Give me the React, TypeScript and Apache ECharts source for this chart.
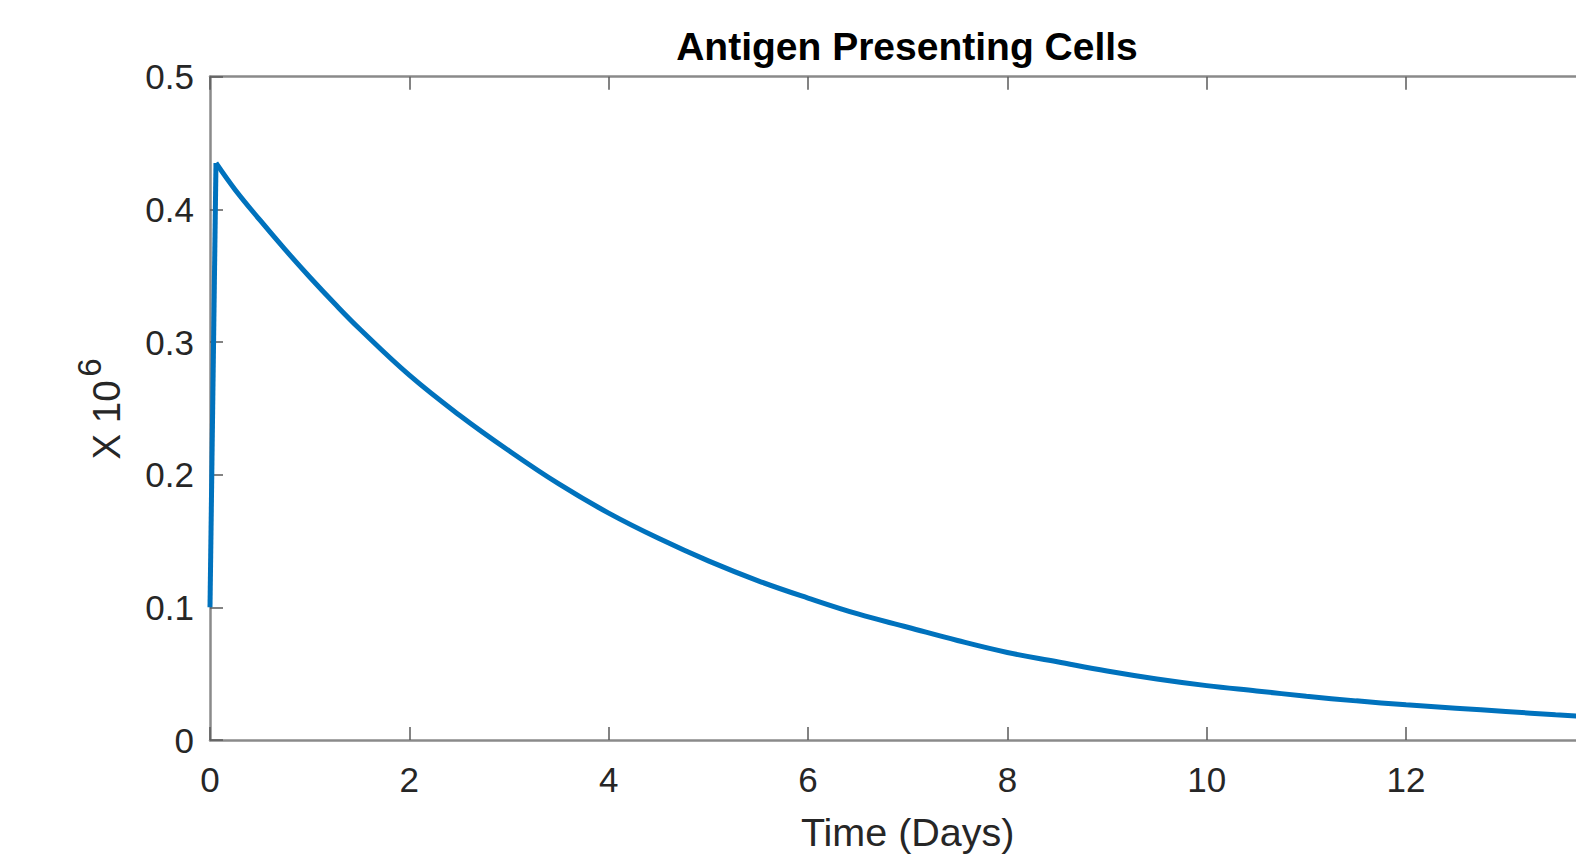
import React, { useEffect, useRef } from "react";
import * as echarts from "echarts";

const riseTimes = [0, 0.06];
const riseValues = [0.1, 0.435];
const decayTimes = [0.06, 0.25, 0.5, 0.75, 1, 1.25, 1.5, 2, 2.5, 3, 3.5, 4, 4.5, 5, 5.5, 6, 6.5, 7, 7.5, 8, 8.5, 9, 9.5, 10, 10.5, 11, 11.5, 12, 12.5, 13, 13.5, 14];
const decayValues = [0.435, 0.415, 0.392, 0.37, 0.349, 0.329, 0.31, 0.275, 0.245, 0.218, 0.193, 0.171, 0.152, 0.135, 0.12, 0.107, 0.095, 0.085, 0.075, 0.066, 0.059, 0.052, 0.046, 0.041, 0.037, 0.033, 0.0295, 0.0265, 0.024, 0.0215, 0.019, 0.017];

const titleText = "Antigen Presenting Cells";
const xAxisName = "Time (Days)";
const yAxisMain = "X 10";
const yAxisSup = "6";

const FONT = "'Liberation Sans', Arial, Helvetica, sans-serif";

export default function App() {
  const ref = useRef<HTMLDivElement>(null);

  useEffect(() => {
    if (!ref.current) return;
    const chart = echarts.init(ref.current, null, { renderer: "svg" });
    const rise = riseTimes.map((t, i) => [t, riseValues[i]]);
    const decay = decayTimes.map((t, i) => [t, decayValues[i]]);
    const axisLine = { show: true, onZero: false, lineStyle: { color: "#8a8a8a", width: 2.5 } };
    const tick = { show: true, inside: true, length: 13, lineStyle: { color: "#5a5a5a", width: 1.5 } };
    const lineStyle = { color: "#0072BD", width: 5 };
    chart.setOption({
      animation: false,
      backgroundColor: "#ffffff",
      grid: { left: 210, top: 76.7, right: 34.6, bottom: 114.7, containLabel: false },
      xAxis: [
        {
          type: "value",
          min: 0,
          max: 14,
          interval: 2,
          position: "bottom",
          axisLine,
          axisTick: tick,
          splitLine: { show: false },
          axisLabel: { color: "#262626", fontSize: 35, fontFamily: FONT, margin: 22, showMaxLabel: false },
          name: xAxisName,
          nameLocation: "middle",
          nameGap: 72,
          nameTextStyle: { color: "#262626", fontSize: 39.5, fontFamily: FONT },
        },
        {
          type: "value",
          min: 0,
          max: 14,
          interval: 2,
          position: "top",
          axisLine,
          axisTick: tick,
          splitLine: { show: false },
          axisLabel: { show: false },
        },
      ],
      yAxis: [
        {
          type: "value",
          min: 0,
          max: 0.5,
          interval: 0.1,
          position: "left",
          axisLine,
          axisTick: tick,
          splitLine: { show: false },
          axisLabel: { color: "#262626", fontSize: 35, fontFamily: FONT, margin: 16 },
        },
        {
          type: "value",
          min: 0,
          max: 0.5,
          interval: 0.1,
          position: "right",
          axisLine,
          axisTick: tick,
          splitLine: { show: false },
          axisLabel: { show: false },
        },
      ],
      graphic: [
        {
          type: "text",
          x: 907,
          y: 46,
          style: {
            text: titleText,
            fill: "#000000",
            font: `bold 39px ${FONT}`,
            textAlign: "center",
            textVerticalAlign: "middle",
          },
        },
        {
          type: "text",
          x: 106,
          y: 420,
          rotation: Math.PI / 2,
          style: {
            text: yAxisMain,
            fill: "#262626",
            font: `38.5px ${FONT}`,
            textAlign: "center",
            textVerticalAlign: "middle",
          },
        },
        {
          type: "text",
          x: 89.5,
          y: 367.5,
          rotation: Math.PI / 2,
          style: {
            text: yAxisSup,
            fill: "#262626",
            font: `33px ${FONT}`,
            textAlign: "center",
            textVerticalAlign: "middle",
          },
        },
      ],
      series: [
        {
          type: "line",
          xAxisIndex: 0,
          yAxisIndex: 0,
          data: rise,
          showSymbol: false,
          lineStyle,
          itemStyle: { color: "#0072BD" },
        },
        {
          type: "line",
          xAxisIndex: 0,
          yAxisIndex: 0,
          data: decay,
          showSymbol: false,
          smooth: 0.4,
          lineStyle,
          itemStyle: { color: "#0072BD" },
        },
      ],
    });
    return () => chart.dispose();
  }, []);

  return (
    <div style={{ position: "fixed", left: 0, top: 0, width: 1576, height: 857, overflow: "hidden", background: "#fff" }}>
      <div ref={ref} style={{ width: 1640, height: 857 }} />
    </div>
  );
}
